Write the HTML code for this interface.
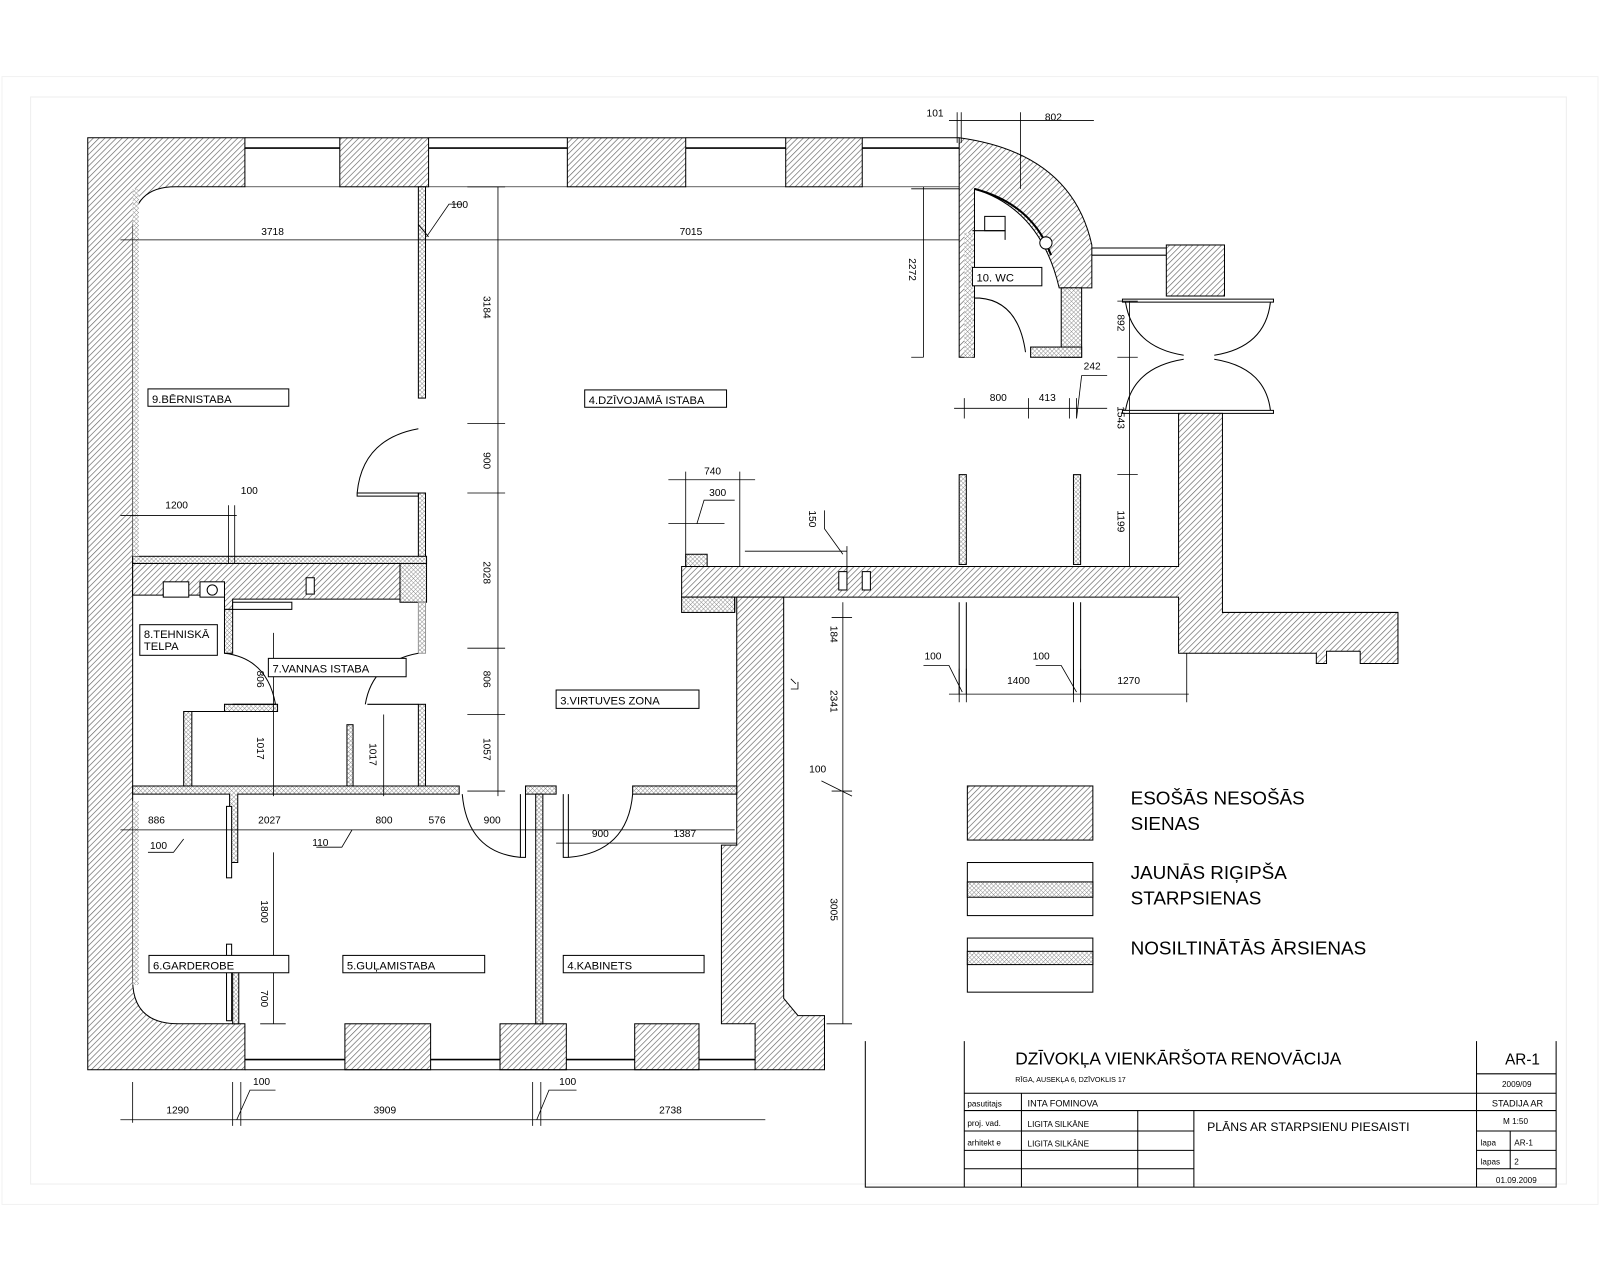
<!DOCTYPE html>
<html><head><meta charset="utf-8"><style>
html,body{margin:0;padding:0;background:#fff;}
svg{display:block;}
text{font-family:"Liberation Sans",sans-serif;fill:#000;}
.d{font-size:10px;}
.l{font-size:11px;}
</style></head><body>
<svg width="1600" height="1280" viewBox="0 0 1568 1254" preserveAspectRatio="none" xmlns="http://www.w3.org/2000/svg">
<defs>
<pattern id="h" width="4" height="4" patternUnits="userSpaceOnUse" patternTransform="rotate(45)">
<rect width="4" height="4" fill="#fff"/><line x1="0" y1="0" x2="0" y2="4" stroke="#666" stroke-width="1.3"/></pattern>
<pattern id="x" width="3" height="3" patternUnits="userSpaceOnUse" patternTransform="rotate(45)">
<rect width="3" height="3" fill="#fff"/><path d="M0 0V3M0 0H3" stroke="#888" stroke-width="0.9"/></pattern>
</defs>
<rect x="30" y="95" width="1505" height="1065" fill="none" stroke="#eee"/>
<rect x="2" y="75" width="1564" height="1105" fill="none" stroke="#f2f2f2"/>
<g stroke="#000" stroke-width="1">
<path d="M86,135H240V183H172Q130,183 130,225V960Q130,1003 175,1003H240V1048H86Z" fill="url(#h)"/>
<rect x="333" y="135" width="87" height="48" fill="url(#h)"/>
<rect x="556" y="135" width="116" height="48" fill="url(#h)"/>
<rect x="770" y="135" width="75" height="48" fill="url(#h)"/>
<path d="M240,135H333M420,135H556M672,135H770M845,135H940" fill="none"/>
<path d="M240,145H333M420,145H556M672,145H770M845,145H940" fill="none" stroke-width="1.6"/>
<path d="M240,183H333M420,183H556M672,183H770M845,183H940" fill="none" stroke-width="0.6"/>
<path d="M940,135Q1050,150 1070,240V282H1038Q1020,205 955,185V350H940Z" fill="url(#h)"/>
<path d="M955,185Q1012,200 1030,250" fill="none" stroke-width="2"/>
<rect x="1040" y="282" width="20" height="68" fill="url(#x)"/>
<rect x="1010" y="340" width="50" height="10" fill="url(#x)"/>
<rect x="945" y="228" width="8" height="122" fill="url(#x)" stroke="none"/>
<rect x="965" y="212" width="20" height="14" fill="#fff"/>
<path d="M953,226H985V235" fill="none"/>
<circle cx="1025" cy="238" r="6" fill="#fff"/>
<path d="M955,292H960Q998,295 1005,345" fill="none"/>
<rect x="1143" y="240" width="57" height="50" fill="url(#h)"/>
<path d="M1070,243H1143M1070,250H1143" fill="none"/>
<path d="M1100,293H1248V296H1100ZM1100,405H1248V402H1100Z" fill="#fff"/>
<path d="M1103,296Q1110,340 1160,348M1245,296Q1240,340 1190,348M1103,402Q1110,360 1160,352M1245,402Q1240,360 1190,352" fill="none"/>
<path d="M1155,405H1198V600H1370V650H1333V638H1300V650H1290V640H1155V585H668V555H1155Z" fill="url(#h)"/>
<rect x="668" y="585" width="52" height="15" fill="url(#x)"/>
<rect x="672" y="543" width="21" height="12" fill="url(#x)"/>
<rect x="822" y="560" width="8" height="18" fill="#fff"/>
<rect x="845" y="560" width="8" height="18" fill="#fff"/>
<path d="M720,585V600" fill="none"/>
<path d="M722,585H768V978L782,995H808V1048H740V1003H707V828H722Z" fill="url(#h)"/>
<rect x="338" y="1003" width="84" height="45" fill="url(#h)"/>
<rect x="490" y="1003" width="65" height="45" fill="url(#h)"/>
<rect x="622" y="1003" width="63" height="45" fill="url(#h)"/>
<path d="M240,1048H740" fill="none"/>
<path d="M240,1038H338M422,1038H490M555,1038H622M685,1038H740" fill="none" stroke-width="1.6"/>
<path d="M130,552H392V587H228V597H220V583H130Z" fill="url(#h)"/>
<rect x="392" y="548" width="26" height="42" fill="url(#x)"/>
<rect x="160" y="570" width="25" height="15" fill="#fff"/>
<rect x="196" y="570" width="24" height="15" fill="#fff"/>
<circle cx="208" cy="578" r="5" fill="none"/>
<rect x="300" y="566" width="8" height="16" fill="#fff"/>
<rect x="410" y="183" width="7" height="207" fill="url(#x)"/>
<rect x="410" y="483" width="7" height="65" fill="url(#x)"/>
<rect x="130" y="545" width="288" height="7" fill="url(#x)"/>
<rect x="130" y="185" width="6" height="360" fill="url(#x)" stroke="none"/>
<rect x="130" y="785" width="6" height="180" fill="url(#x)" stroke="none"/>
<rect x="220" y="597" width="8" height="43" fill="url(#x)"/>
<rect x="228" y="590" width="58" height="7" fill="#fff"/>
<rect x="410" y="590" width="7" height="50" fill="url(#x)" stroke="#999"/>
<path d="M180,770V697H220V690H272V697H188V770Z" fill="url(#x)"/>
<rect x="340" y="710" width="6" height="60" fill="url(#x)"/>
<rect x="410" y="690" width="7" height="80" fill="url(#x)"/>
<path d="M130,770H450V778H233V845H225V778H130Z" fill="url(#x)"/>
<rect x="515" y="770" width="30" height="8" fill="url(#x)"/>
<rect x="620" y="770" width="102" height="8" fill="url(#x)"/>
<rect x="525" y="778" width="7" height="225" fill="url(#x)"/>
<rect x="222" y="790" width="5" height="70" fill="#fff"/>
<rect x="222" y="925" width="5" height="75" fill="#fff"/>
<rect x="228" y="940" width="6" height="63" fill="url(#x)"/>
<rect x="940" y="465" width="7" height="88" fill="url(#x)"/>
<rect x="1052" y="465" width="7" height="88" fill="url(#x)"/>
<path d="M940,590V680M947,590V680M1052,590V680M1059,590V680" fill="none"/>
<path d="M350,483H410V486H350ZM350,483Q355,430 410,420" fill="none"/>
<path d="M220,640Q262,645 270,690M410,640Q365,648 358,690M228,690H270M360,690H410" fill="none"/>
<path d="M515,778V840H510V778M453,778Q458,835 510,840" fill="none"/>
<path d="M552,778V840H557V778M620,778Q615,835 557,840" fill="none"/>
</g>
<g stroke="#000" stroke-width="0.8" fill="none">
<path d="M118,235H940M410,220L420,232M453,200H440L418,232"/>
<path d="M488,183V780M458,183H495M458,415H495M458,483H495M458,635H495M458,700H495M458,775H495"/>
<path d="M905,183V350M893,185H940M893,350H905"/>
<path d="M1107,295V555M1095,295H1115M1095,350H1115M1095,465H1115"/>
<path d="M935,400H1085M945,390V410M1008,390V410M1048,390V410M1055,390V410L1060,368H1085"/>
<path d="M655,470H740M672,462V555M725,462V555M655,513H710M683,513L690,490H720"/>
<path d="M730,540H830M830,535V560M826,543L808,518V500"/>
<path d="M826,590V1003M815,605H835M815,775H835M810,1003H835M805,765L835,780"/>
<path d="M118,813H720M545,826H722M180,822L170,835H145M345,813L335,830H310"/>
<path d="M268,620V780M376,700V780M268,835V1003M255,1003H280"/>
<path d="M118,505H232M224,495V552M230,495V552"/>
<path d="M130,1060V1100M118,1097H750M228,1060V1103M236,1060V1103M522,1060V1103M530,1060V1103M232,1097L245,1068H270M526,1097L538,1068H565"/>
<path d="M930,680H1165M940,655V688M947,655V688M1052,655V688M1059,655V688M1163,640V688M943,678L930,652H905M1055,678L1040,652H1015"/>
<path d="M930,118H1072M938,110V140M942,110V140M1000,110V185"/>
<path d="M775,665L780,670M775,675H782V668"/>
</g>
<g class="d">
<text x="256" y="230">3718</text><text x="666" y="230">7015</text>
<text x="442" y="204">100</text><text x="236" y="484">100</text><text x="162" y="498">1200</text>
<text x="908" y="114">101</text><text x="1024" y="118">802</text>
<text x="970" y="393">800</text><text x="1018" y="393">413</text><text x="1062" y="362">242</text>
<text x="690" y="465">740</text><text x="695" y="486">300</text>
<text x="906" y="646">100</text><text x="1012" y="646">100</text>
<text x="987" y="670">1400</text><text x="1095" y="670">1270</text>
<text x="793" y="757">100</text>
<text x="145" y="807">886</text><text x="253" y="807">2027</text><text x="368" y="807">800</text><text x="420" y="807">576</text><text x="474" y="807">900</text>
<text x="580" y="820">900</text><text x="660" y="820">1387</text>
<text x="147" y="832">100</text><text x="306" y="829">110</text>
<text x="163" y="1091">1290</text><text x="366" y="1091">3909</text><text x="646" y="1091">2738</text>
<text x="248" y="1063">100</text><text x="548" y="1063">100</text>
<g transform="rotate(90)">
<text x="290" y="-474">3184</text><text x="443" y="-474">900</text><text x="550" y="-474">2028</text><text x="657" y="-474">806</text><text x="723" y="-474">1057</text>
<text x="253" y="-891">2272</text><text x="308" y="-1095">892</text><text x="398" y="-1095">1543</text><text x="500" y="-1095">1199</text>
<text x="500" y="-793">150</text><text x="613" y="-814">184</text><text x="676" y="-814">2341</text><text x="880" y="-814">3005</text>
<text x="657" y="-252">806</text><text x="722" y="-252">1017</text><text x="728" y="-362">1017</text>
<text x="882" y="-256">1800</text><text x="970" y="-256">700</text>
</g>
</g>
<g stroke="#000" stroke-width="1" fill="#fff">
<rect x="145" y="381" width="138" height="17"/><rect x="573" y="382" width="139" height="17"/>
<rect x="137" y="612" width="76" height="30"/><rect x="263" y="645" width="135" height="18"/>
<rect x="545" y="676" width="140" height="18"/><rect x="953" y="262" width="68" height="18"/>
<rect x="146" y="936" width="137" height="17"/><rect x="336" y="936" width="139" height="17"/><rect x="552" y="936" width="138" height="17"/>
</g>
<g class="l">
<text x="149" y="395">9.BĒRNISTABA</text><text x="577" y="396">4.DZĪVOJAMĀ ISTABA</text>
<text x="141" y="625">8.TEHNISKĀ</text><text x="141" y="637">TELPA</text>
<text x="267" y="659">7.VANNAS ISTABA</text><text x="549" y="690">3.VIRTUVES ZONA</text>
<text x="957" y="276">10. WC</text>
<text x="150" y="950">6.GARDEROBE</text><text x="340" y="950">5.GUĻAMISTABA</text><text x="556" y="950">4.KABINETS</text>
</g>
<g stroke="#000" stroke-width="1">
<rect x="948" y="770" width="123" height="53" fill="url(#h)"/>
<rect x="948" y="845" width="123" height="52" fill="#fff"/>
<rect x="948" y="864" width="123" height="15" fill="url(#x)"/>
<rect x="948" y="919" width="123" height="53" fill="#fff"/>
<rect x="948" y="932" width="123" height="13" fill="url(#x)"/>
</g>
<g style="font-size:18.5px">
<text x="1108" y="788">ESOŠĀS NESOŠĀS</text><text x="1108" y="813">SIENAS</text>
<text x="1108" y="861">JAUNĀS RIĢIPŠA</text><text x="1108" y="886">STARPSIENAS</text>
<text x="1108" y="935">NOSILTINĀTĀS ĀRSIENAS</text>
</g>
<g stroke="#000" stroke-width="1" fill="none">
<path d="M848,1020V1163H1525V1020M945,1020V1163M1447,1020V1163"/>
<path d="M945,1071H1525M945,1088H1525M945,1108H1170M945,1127H1170M945,1145H1170M1001,1071V1163M1115,1088V1163M1170,1088V1163"/>
<path d="M1447,1052H1525M1447,1108H1525M1447,1127H1525M1447,1145H1525M1480,1108V1145"/>
</g>
<text x="995" y="1043" style="font-size:17px">DZĪVOKĻA VIENKĀRŠOTA RENOVĀCIJA</text>
<text x="995" y="1060" style="font-size:7px">RĪGA, AUSEKĻA 6, DZĪVOKLIS 17</text>
<text x="1475" y="1043" style="font-size:15px">AR-1</text>
<text x="1472" y="1065" style="font-size:8px">2009/09</text>
<text x="1462" y="1084" style="font-size:9px">STADIJA  AR</text>
<text x="1473" y="1101" style="font-size:8px">M 1:50</text>
<text x="1451" y="1122" style="font-size:8px">lapa</text><text x="1484" y="1122" style="font-size:8px">AR-1</text>
<text x="1451" y="1141" style="font-size:8px">lapas</text><text x="1484" y="1141" style="font-size:8px">2</text>
<text x="1466" y="1159" style="font-size:8px">01.09.2009</text>
<text x="948" y="1084" style="font-size:8px">pasutitajs</text><text x="1007" y="1084" style="font-size:9px">INTA FOMINOVA</text>
<text x="948" y="1103" style="font-size:8px">proj. vad.</text><text x="1007" y="1104" style="font-size:8px">LIGITA SILKĀNE</text>
<text x="948" y="1122" style="font-size:8px">arhitekt e</text><text x="1007" y="1123" style="font-size:8px">LIGITA SILKĀNE</text>
<text x="1183" y="1108" style="font-size:12px">PLĀNS AR STARPSIENU PIESAISTI</text>
</svg>
</body></html>
